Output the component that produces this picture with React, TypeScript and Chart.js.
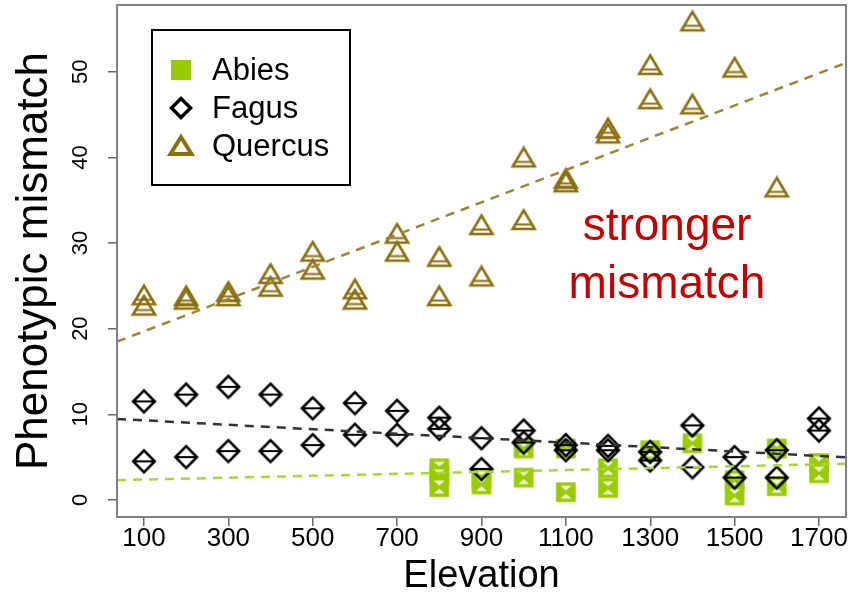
import React, { useEffect, useRef } from 'react';
import { Chart, registerables } from 'chart.js';

Chart.register(...registerables);

// ---- data ----
const species = ['Abies', 'Fagus', 'Quercus'];

const xTickValues = [100, 300, 500, 700, 900, 1100, 1300, 1500, 1700];
const yTickValues = [0, 10, 20, 30, 40, 50];
const xRange = [36, 1764];
const yRange = [-2.0, 57.8];

const abiesElev = [800, 800, 800, 900, 900, 1000, 1000, 1100, 1100, 1200, 1200, 1300, 1400, 1500, 1500, 1600, 1600, 1700, 1700];
const abiesVal = [3.7, 2.8, 1.5, 2.6, 1.8, 6.0, 2.6, 6.0, 0.9, 3.7, 1.4, 5.8, 6.6, 2.3, 0.5, 6.0, 1.6, 4.3, 3.1];

const fagusElev = [100, 100, 200, 200, 300, 300, 400, 400, 500, 500, 600, 600, 700, 700, 800, 800, 900, 900, 1000, 1000, 1100, 1100, 1200, 1200, 1300, 1300, 1400, 1400, 1500, 1500, 1600, 1600, 1700, 1700];
const fagusVal = [11.5, 4.5, 12.3, 5.0, 13.2, 5.7, 12.3, 5.7, 10.7, 6.4, 11.3, 7.6, 10.4, 7.6, 9.6, 8.3, 7.2, 3.6, 8.1, 6.7, 6.4, 5.8, 6.3, 5.8, 5.6, 4.6, 8.7, 3.8, 5.0, 2.6, 5.8, 2.6, 9.5, 8.1];

const quercusElev = [100, 100, 200, 200, 300, 300, 400, 400, 500, 500, 600, 600, 700, 700, 800, 800, 900, 900, 1000, 1000, 1100, 1100, 1200, 1200, 1300, 1300, 1400, 1400, 1500, 1600];
const quercusVal = [23.9, 22.7, 23.8, 23.4, 24.3, 23.8, 26.4, 24.9, 29.0, 26.9, 24.6, 23.4, 31.1, 29.0, 28.4, 23.8, 32.1, 26.1, 40.0, 32.7, 37.5, 37.1, 43.4, 42.8, 50.8, 46.8, 55.9, 46.2, 50.5, 36.5];

// fitted trend lines (intercept, slope) for Abies, Fagus, Quercus
const trendIntercepts = [2.26, 9.55, 17.8];
const trendSlopes = [0.00111, -0.0026, 0.01884];

const annotationLines = ['stronger', 'mismatch'];

// ---- styles ----
const FONT = "'Liberation Sans', Arial, Helvetica, sans-serif";
const GREEN = '#99CC00';
const BLACK = '#000000';
const OLIVE = '#8B6F10';
const lineColors = ['#A8D63A', '#333333', '#9C8535'];

function makeSquare(): HTMLCanvasElement {
  const c = document.createElement('canvas');
  c.width = 22; c.height = 22;
  const g = c.getContext('2d')!;
  const cx = 11, cy = 11, h = 9.8;
  g.fillStyle = GREEN;
  g.fillRect(cx - h, cy - h, 2 * h, 2 * h);
  g.fillStyle = 'rgba(255,255,255,0.85)';
  g.beginPath();
  g.moveTo(cx - 5.5, cy - 6.5); g.lineTo(cx + 5.5, cy - 6.5); g.lineTo(cx, cy - 1.5); g.closePath();
  g.moveTo(cx - 5.5, cy + 6.5); g.lineTo(cx + 5.5, cy + 6.5); g.lineTo(cx, cy + 1.5); g.closePath();
  g.fill();
  return c;
}

function makeDiamond(): HTMLCanvasElement {
  const c = document.createElement('canvas');
  c.width = 28; c.height = 28;
  const g = c.getContext('2d')!;
  const cx = 14, cy = 14, r = 10.8;
  g.strokeStyle = BLACK;
  g.lineWidth = 2.6;
  g.beginPath();
  g.moveTo(cx - r, cy); g.lineTo(cx, cy - r); g.lineTo(cx + r, cy); g.lineTo(cx, cy + r); g.closePath();
  g.stroke();
  g.lineWidth = 2;
  g.beginPath();
  g.moveTo(cx - r + 1, cy); g.lineTo(cx + r - 1, cy);
  g.stroke();
  return c;
}

function makeTriangle(): HTMLCanvasElement {
  const c = document.createElement('canvas');
  c.width = 28; c.height = 24;
  const g = c.getContext('2d')!;
  const top = 2.5, base = 21, cx = 14, hw = 11;
  g.strokeStyle = OLIVE;
  g.lineWidth = 2.6;
  g.beginPath();
  g.moveTo(cx, top); g.lineTo(cx + hw, base); g.lineTo(cx - hw, base); g.closePath();
  g.stroke();
  const ly = 16.5;
  const lw = ((ly - top) / (base - top)) * hw;
  g.lineWidth = 2;
  g.beginPath();
  g.moveTo(cx - lw, ly); g.lineTo(cx + lw, ly);
  g.stroke();
  return c;
}

const boxPlugin = {
  id: 'rbox',
  afterDatasetsDraw(chart: any) {
    const { ctx, chartArea: a } = chart;
    ctx.save();
    ctx.strokeStyle = '#808080';
    ctx.lineWidth = 2;
    ctx.strokeRect(a.left, a.top, a.right - a.left, a.bottom - a.top);
    ctx.restore();
  },
};

const legendPlugin = {
  id: 'rlegend',
  afterDraw(chart: any) {
    const { ctx, chartArea: a } = chart;
    const bx = a.left + 35, by = a.top + 25, bw = 198, bh = 155;
    ctx.save();
    ctx.fillStyle = '#ffffff';
    ctx.fillRect(bx, by, bw, bh);
    ctx.strokeStyle = '#000000';
    ctx.lineWidth = 2;
    ctx.strokeRect(bx, by, bw, bh);
    const rows = [by + 40, by + 78, by + 116];
    const mx = bx + 29, tx = bx + 60;
    ctx.font = `31px ${FONT}`;
    ctx.textBaseline = 'middle';
    ctx.textAlign = 'left';
    species.forEach((name, i) => {
      const y = rows[i];
      if (i === 0) {
        ctx.fillStyle = GREEN;
        ctx.fillRect(mx - 10, y - 10, 20, 20);
      } else if (i === 1) {
        ctx.strokeStyle = BLACK;
        ctx.lineWidth = 3.5;
        ctx.beginPath();
        ctx.moveTo(mx - 9.5, y); ctx.lineTo(mx, y - 9.5); ctx.lineTo(mx + 9.5, y); ctx.lineTo(mx, y + 9.5); ctx.closePath();
        ctx.stroke();
      } else {
        ctx.strokeStyle = OLIVE;
        ctx.lineWidth = 4;
        ctx.lineJoin = 'miter';
        ctx.beginPath();
        ctx.moveTo(mx, y - 9); ctx.lineTo(mx + 10.5, y + 8); ctx.lineTo(mx - 10.5, y + 8); ctx.closePath();
        ctx.stroke();
      }
      ctx.fillStyle = '#000000';
      ctx.fillText(name, tx, y + 1);
    });
    // annotation
    ctx.fillStyle = '#C00000';
    ctx.font = `46px ${FONT}`;
    ctx.textAlign = 'center';
    ctx.textBaseline = 'alphabetic';
    const ax = a.left + 550;
    ctx.fillText(annotationLines[0], ax, a.top + 235);
    ctx.fillText(annotationLines[1], ax, a.top + 293);
    ctx.restore();
  },
};

export default function App() {
  const ref = useRef<HTMLCanvasElement | null>(null);

  useEffect(() => {
    if (!ref.current) return;
    const sq = makeSquare();
    const di = makeDiamond();
    const tr = makeTriangle();
    const pts = (xs: number[], ys: number[]) => xs.map((x, i) => ({ x, y: ys[i] }));
    const trend = (i: number) => [
      { x: xRange[0], y: trendIntercepts[i] + trendSlopes[i] * xRange[0] },
      { x: xRange[1], y: trendIntercepts[i] + trendSlopes[i] * xRange[1] },
    ];

    Chart.defaults.font.family = FONT;

    const chart = new Chart(ref.current, {
      type: 'scatter',
      data: {
        datasets: [
          { label: species[0], data: pts(abiesElev, abiesVal), pointStyle: sq as any, order: 3 },
          { label: species[1], data: pts(fagusElev, fagusVal), pointStyle: di as any, order: 2 },
          { label: species[2], data: pts(quercusElev, quercusVal), pointStyle: tr as any, order: 2 },
          ...[0, 1, 2].map((i) => ({
            type: 'line' as const,
            label: species[i] + ' trend',
            data: trend(i),
            borderColor: lineColors[i],
            borderWidth: 2.5,
            borderDash: [9, 7],
            pointRadius: 0,
            fill: false,
            order: 0,
          })),
        ] as any,
      },
      options: {
        animation: false,
        responsive: false,
        layout: { padding: { top: 2, right: 15, left: 0, bottom: 0 } },
        plugins: { legend: { display: false }, tooltip: { enabled: false } },
        scales: {
          x: {
            type: 'linear',
            min: xRange[0],
            max: xRange[1],
            afterBuildTicks: (s: any) => { s.ticks = xTickValues.map((v) => ({ value: v })); },
            afterFit: (s: any) => {
              s.height = 82;
              s.paddingLeft = 0; s.paddingRight = 0; s.paddingTop = 0; s.paddingBottom = 0;
            },
            ticks: {
              font: { size: 26, lineHeight: 0.95 },
              color: '#000',
              padding: 0,
              autoSkip: false,
              maxRotation: 0,
              minRotation: 0,
              callback: (v: any) => String(v),
            },
            grid: { drawOnChartArea: false, drawTicks: true, tickLength: 9, color: '#666', lineWidth: 1.5 },
            border: { display: false },
            title: { display: true, text: 'Elevation', font: { size: 38 }, color: '#000', padding: { top: 0, bottom: 0 } },
          },
          y: {
            type: 'linear',
            min: yRange[0],
            max: yRange[1],
            afterBuildTicks: (s: any) => { s.ticks = yTickValues.map((v) => ({ value: v })); },
            afterFit: (s: any) => {
              s.width = 117;
              s.paddingLeft = 0; s.paddingRight = 0; s.paddingTop = 0; s.paddingBottom = 0;
            },
            ticks: {
              font: { size: 22 },
              color: '#000',
              padding: 15,
              autoSkip: false,
              minRotation: 90,
              maxRotation: 90,
              crossAlign: 'center',
              callback: (v: any) => String(v),
            },
            grid: { drawOnChartArea: false, drawTicks: true, tickLength: 9, color: '#666', lineWidth: 1.5 },
            border: { display: false },
            title: { display: true, text: 'Phenotypic mismatch', font: { size: 44 }, color: '#000', padding: { top: 8, bottom: 0 } },
          },
        },
      } as any,
      plugins: [boxPlugin, legendPlugin],
    });
    return () => chart.destroy();
  }, []);

  return (
    <div style={{ position: 'absolute', left: 0, top: 0, width: 861, height: 599, background: '#fff' }}>
      <canvas ref={ref} width={861} height={599} style={{ display: 'block' }} />
    </div>
  );
}
